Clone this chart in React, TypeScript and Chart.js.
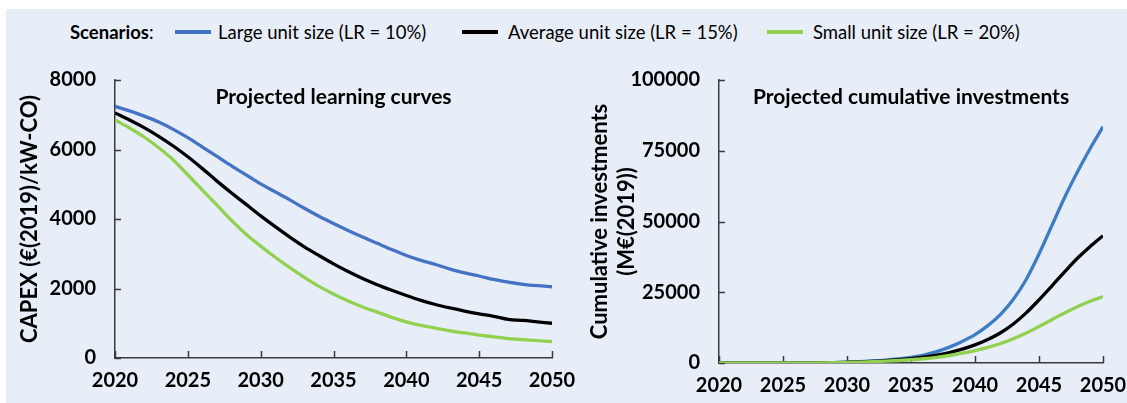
import React, { useEffect, useRef } from "react";
import { Chart, registerables } from "chart.js";
Chart.register(...registerables);

const FONT = "Lato, 'Open Sans', sans-serif";
const AXIS_COLOR = "#3a3a3a";
const BLUE_L = "#4472C4";
const BLUE_R = "#3D7DC4";
const BLACK = "#000000";
const GREEN = "#92D050";

const years = [
  2020, 2021, 2022, 2023, 2024, 2025, 2026, 2027, 2028, 2029, 2030,
  2031, 2032, 2033, 2034, 2035, 2036, 2037, 2038, 2039, 2040,
  2041, 2042, 2043, 2044, 2045, 2046, 2047, 2048, 2049, 2050,
];

const seriesNames = [
  "Large unit size (LR = 10%)",
  "Average unit size (LR = 15%)",
  "Small unit size (LR = 20%)",
];

// CAPEX (€(2019)/kW-CO)
const capexLarge = [
  7240, 7110, 6960, 6790, 6580, 6340, 6070, 5800, 5530, 5270, 5010,
  4780, 4550, 4310, 4080, 3870, 3670, 3480, 3300, 3120, 2950,
  2810, 2690, 2560, 2450, 2360, 2260, 2180, 2120, 2080, 2050,
];
const capexAverage = [
  7050, 6850, 6630, 6380, 6100, 5790, 5450, 5090, 4750, 4420, 4090,
  3780, 3480, 3200, 2950, 2710, 2490, 2290, 2110, 1950, 1800,
  1660, 1540, 1440, 1350, 1270, 1200, 1110, 1080, 1040, 1000,
];
const capexSmall = [
  6850, 6620, 6360, 6050, 5700, 5270, 4830, 4400, 3960, 3560, 3220,
  2900, 2600, 2320, 2060, 1840, 1640, 1470, 1320, 1170, 1040,
  940, 860, 780, 720, 660, 610, 560, 530, 500, 470,
];

// Cumulative investments (M€(2019))
const investLarge = [
  0, 0, 0, 0, 0, 0, 0, 0, 50, 150, 300,
  500, 750, 1050, 1450, 2000, 2800, 4000, 5600, 7600, 10000,
  13200, 17200, 22500, 29500, 38500, 48500, 58500, 67500, 75800, 83500,
];
const investAverage = [
  0, 0, 0, 0, 0, 0, 0, 0, 40, 120, 250,
  400, 600, 850, 1150, 1550, 2100, 2800, 3700, 4900, 6400,
  8300, 10700, 13800, 17700, 22300, 27200, 32200, 37000, 41200, 45000,
];
const investSmall = [
  0, 0, 0, 0, 0, 0, 0, 0, 30, 100, 200,
  320, 470, 650, 880, 1150, 1500, 2000, 2650, 3450, 4400,
  5500, 6900, 8600, 10600, 12900, 15300, 17700, 19900, 21800, 23500,
];

const xTicks = [2020, 2025, 2030, 2035, 2040, 2045, 2050];
const capexTicks = [0, 2000, 4000, 6000, 8000];
const investTicks = [0, 25000, 50000, 75000, 100000];

const innerTicks = {
  id: "innerTicks",
  beforeDatasetsDraw(chart: any) {
    const { ctx, chartArea, scales } = chart;
    const xs = scales.x;
    const ys = scales.y;
    ctx.save();
    ctx.strokeStyle = AXIS_COLOR;
    ctx.lineWidth = 1.5;
    ctx.beginPath();
    xs.ticks.forEach((t: any) => {
      const px = Math.round(xs.getPixelForValue(t.value)) + 0.5;
      ctx.moveTo(px, chartArea.bottom);
      ctx.lineTo(px, chartArea.bottom - 7);
    });
    ys.ticks.forEach((t: any) => {
      const py = Math.round(ys.getPixelForValue(t.value)) + 0.5;
      ctx.moveTo(chartArea.left, py);
      ctx.lineTo(chartArea.left + 6, py);
    });
    ctx.stroke();
    ctx.restore();
  },
};

function plotTitle(text: string, y: number) {
  return {
    id: "plotTitle",
    afterDraw(chart: any) {
      const { ctx, chartArea } = chart;
      ctx.save();
      ctx.font = `bold 21px ${FONT}`;
      ctx.fillStyle = "#000";
      ctx.textAlign = "center";
      ctx.textBaseline = "middle";
      ctx.fillText(text, (chartArea.left + chartArea.right) / 2, y);
      ctx.restore();
    },
  };
}

function makeConfig(opts: any) {
  const datasets = opts.data.map((arr: number[], i: number) => ({
    label: seriesNames[i],
    data: years.map((x, j) => ({ x, y: arr[j] })),
    borderColor: opts.colors[i],
    backgroundColor: opts.colors[i],
    borderWidth: 3.3,
    pointRadius: 0,
    cubicInterpolationMode: "monotone",
    fill: false,
    order: 2 - i,
  }));
  return {
    type: "line",
    data: { datasets },
    plugins: [innerTicks, plotTitle(opts.title, 37)],
    options: {
      animation: false,
      responsive: false,
      maintainAspectRatio: false,
      layout: { padding: { left: 0, right: opts.padRight, top: 20, bottom: 0 } },
      plugins: { legend: { display: false }, tooltip: { enabled: false } },
      scales: {
        x: {
          type: "linear",
          min: 2020,
          max: 2050,
          afterBuildTicks: (s: any) => {
            s.ticks = xTicks.map((v) => ({ value: v }));
          },
          afterFit: (s: any) => {
            s.height = opts.xHeight;
            s.paddingLeft = 0;
            s.paddingRight = 0;
          },
          grid: { display: false, drawTicks: false, tickLength: 0 },
          border: { display: true, color: AXIS_COLOR, width: 1.5 },
          ticks: {
            color: "#000",
            font: { family: FONT, size: 20, weight: "bold" },
            padding: 11,
            maxRotation: 0,
            callback: (v: any) => String(v),
          },
        },
        y: {
          type: "linear",
          min: 0,
          max: opts.yMax,
          afterBuildTicks: (s: any) => {
            s.ticks = opts.yTicks.map((v: number) => ({ value: v }));
          },
          afterFit: (s: any) => {
            s.width = opts.yWidth;
            s.paddingTop = 0;
            s.paddingBottom = 0;
          },
          grid: { display: false, drawTicks: false, tickLength: 0 },
          border: { display: true, color: AXIS_COLOR, width: 1.5 },
          ticks: {
            color: "#000",
            font: { family: FONT, size: 20, weight: "bold" },
            padding: 19,
            callback: (v: any) => String(v),
          },
          title: {
            display: true,
            text: opts.yTitle,
            color: "#000",
            font: { family: FONT, size: 22, weight: "bold", lineHeight: opts.yTitleLineHeight },
            padding: { top: opts.yTitlePad, bottom: 0 },
          },
        },
      },
    },
  };
}

function ChartCanvas({ config, left, top, width, height }: any) {
  const ref = useRef<HTMLCanvasElement | null>(null);
  useEffect(() => {
    if (!ref.current) return;
    const chart = new Chart(ref.current, config);
    return () => chart.destroy();
  }, [config]);
  return (
    <canvas
      ref={ref}
      width={width}
      height={height}
      style={{ position: "absolute", left, top, width, height }}
    />
  );
}

const leftConfig = makeConfig({
  data: [capexLarge, capexAverage, capexSmall],
  colors: [BLUE_L, BLACK, GREEN],
  yTicks: capexTicks,
  yMax: 8000,
  yTitle: "CAPEX (€(2019)/kW-CO)",
  yTitlePad: 17,
  yTitleLineHeight: 1.2,
  yWidth: 115,
  xHeight: 45,
  padRight: 48,
  title: "Projected learning curves",
});

const rightConfig = makeConfig({
  data: [investLarge, investAverage, investSmall],
  colors: [BLUE_R, BLACK, GREEN],
  yTicks: investTicks,
  yMax: 100000,
  yTitle: ["Cumulative investments", "(M€(2019))"],
  yTitlePad: 26.5,
  yTitleLineHeight: 1.23,
  yWidth: 159,
  xHeight: 40,
  padRight: 24,
  title: "Projected cumulative investments",
});

const legendItems = [
  { label: seriesNames[0], color: BLUE_L, swatchX: 175, textX: 218 },
  { label: seriesNames[1], color: BLACK, swatchX: 462, textX: 508 },
  { label: seriesNames[2], color: GREEN, swatchX: 767, textX: 813 },
];

export default function App() {
  return (
    <div style={{ fontFamily: FONT }}>
      <div
        style={{
          position: "absolute",
          left: 6,
          top: 9,
          width: 1121,
          height: 394,
          background: "#E8EEF8",
        }}
      />
      <div
        style={{
          position: "absolute",
          left: 70,
          top: 20,
          height: 24,
          lineHeight: "24px",
          fontSize: 18.5,
          color: "#000",
          whiteSpace: "nowrap",
        }}
      >
        <b>Scenarios</b>:
      </div>
      {legendItems.map((it) => (
        <React.Fragment key={it.label}>
          <div
            style={{
              position: "absolute",
              left: it.swatchX,
              top: 30,
              width: 36,
              height: 4,
              background: it.color,
            }}
          />
          <div
            style={{
              position: "absolute",
              left: it.textX,
              top: 20,
              height: 24,
              lineHeight: "24px",
              fontSize: 18.5,
              color: "#000",
              whiteSpace: "nowrap",
            }}
          >
            {it.label}
          </div>
        </React.Fragment>
      ))}
      <ChartCanvas config={leftConfig} left={0} top={60} width={600} height={343} />
      <ChartCanvas config={rightConfig} left={560} top={60} width={567} height={343} />
    </div>
  );
}
